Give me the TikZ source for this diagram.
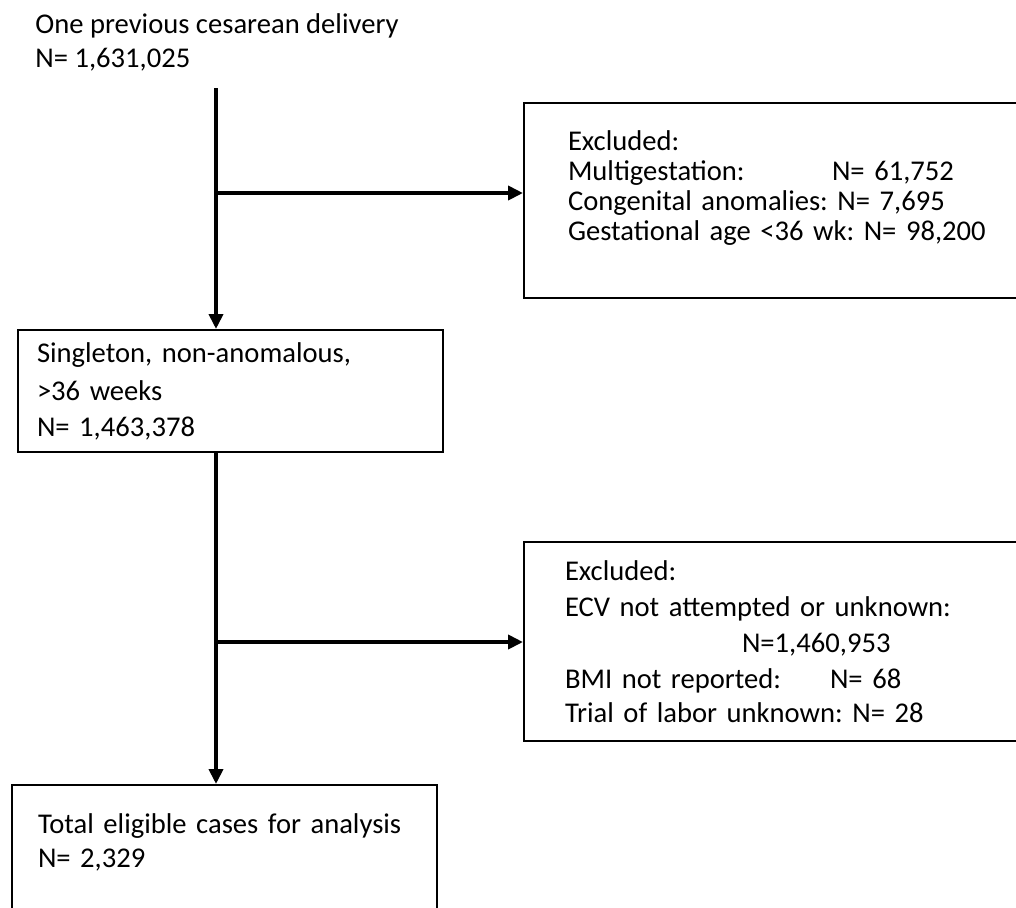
\documentclass[tikz,border=0pt]{standalone}
\usepackage{fontspec}
\setmainfont{Carlito}
\usepackage{tikz}
\usetikzlibrary{positioning}
\usetikzlibrary{arrows.meta}
\frenchspacing
\begin{document}
\begin{tikzpicture}[
box/.style={draw=black, line width=1pt, align=left, inner ysep=0pt, font=\fontsize{14.3}{17}\selectfont},
flow/.style={line width=2pt, color=black, -{Triangle[length=7.5pt, width=7pt]}}]
\clip (0pt, 0pt) rectangle (508pt, -453.5pt);
\node (top) [anchor=north west, inner sep=0pt, align=left, font=\fontsize{14.3}{17}\selectfont] at (17.5pt, -6.5pt) {One previous cesarean delivery\\N= 1,631,025};
\node (single) [box, text width=193.5pt, inner xsep=9.5pt, minimum height=61pt] at (115.25pt, -195.5pt) {Singleton, non-anomalous,\\[2pt]>36 weeks\\[1pt]N= 1,463,378};
\node (excl1) [box, text width=254pt, inner xsep=22pt, minimum height=97.5pt, font=\fontsize{14.3}{15}\selectfont] at (411pt, -100.25pt) {Excluded:\\\makebox[132pt][l]{Multigestation:}N= 61,752\\Congenital anomalies: N= 7,695\\Gestational age <36 wk: N= 98,200\\\mbox{}};
\node (excl2) [box, text width=257pt, inner xsep=20.5pt, minimum height=99.5pt] at (411pt, -320.75pt) {Excluded:\\[1pt]ECV not attempted or unknown:\\[1pt]\hspace*{88.5pt}N=1,460,953\\[1pt]\makebox[132.5pt][l]{BMI not reported:}N= 68\\Trial of labor unknown: N= 28};
\node (total) [box, text width=186.5pt, inner xsep=13pt, minimum height=69.5pt] at (112.25pt, -427.25pt) {Total eligible cases for analysis\\N= 2,329\\[-3pt]\mbox{}};
\coordinate (s1) at (108pt, -44pt);
\coordinate (j1) at (108pt, -96.5pt);
\coordinate (j2) at (108pt, -321pt);
\draw [flow] (s1) to (single.north -| s1);
\draw [flow] (j1) to (excl1.west |- j1);
\draw [flow] (single.south -| s1) to (total.north -| s1);
\draw [flow] (j2) to (excl2.west |- j2);
\end{tikzpicture}
\end{document}
